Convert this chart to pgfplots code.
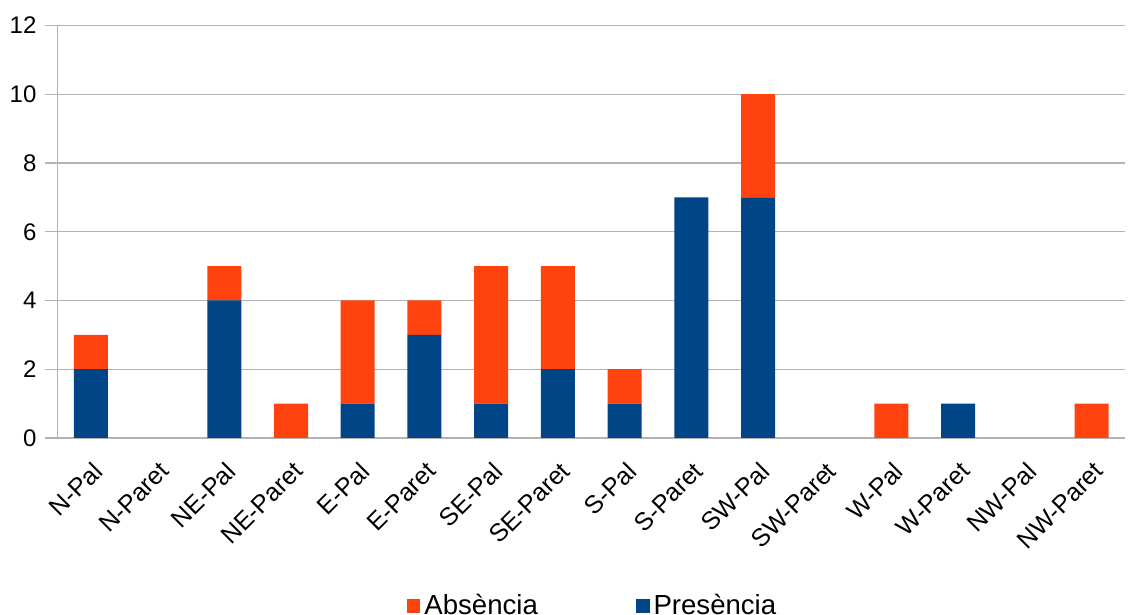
\documentclass[border=0pt]{standalone}
\usepackage{pgfplots}
\pgfplotsset{compat=1.18}
\usepackage{fontspec}
\setmainfont{Liberation Sans}
\definecolor{pres}{HTML}{004586}
\definecolor{abs}{HTML}{FF420E}
\definecolor{gridc}{HTML}{B3B3B3}
\pgfplotstableread{
x pres abs
0 2 1
1 0 0
2 4 1
3 0 1
4 1 3
5 3 1
6 1 4
7 2 3
8 1 1
9 7 0
10 7 3
11 0 0
12 0 1
13 1 0
14 0 0
15 0 1
}\datatable
\begin{document}
\begin{tikzpicture}
\begin{axis}[
  scale only axis,
  width=533.75pt, height=206.25pt,
  at={(0,0)}, anchor=south west,
  ybar stacked,
  bar width=17pt,
  xmin=-0.5, xmax=15.5,
  ymin=0, ymax=12,
  ytick={0,2,...,12},
  xtick={0,...,15},
  xticklabels={N-Pal,N-Paret,NE-Pal,NE-Paret,E-Pal,E-Paret,SE-Pal,SE-Paret,S-Pal,S-Paret,SW-Pal,SW-Paret,W-Pal,W-Paret,NW-Pal,NW-Paret},
  major x tick style={draw=none},
  extra x ticks={-0.5,0.5,...,15.5},
  extra x tick labels={},
  extra x tick style={grid=none, major tick length=5pt, tick align=outside, major tick style={draw=gridc, line width=0.6pt}},
  axis lines=left,
  axis line style={-, draw=gridc, line width=0.6pt},
  ymajorgrids,
  grid style={draw=gridc, line width=0.6pt},
  y tick style={draw=gridc, line width=0.6pt},
  tick align=outside,
  major tick length=6pt,
  /pgf/number format/assume math mode=true,
  yticklabel style={font=\fontsize{12}{14}\selectfont, xshift=-1pt},
  xticklabel style={font=\fontsize{12.5}{15}\selectfont, rotate=45, anchor=east, yshift=-8.5pt, xshift=0pt},
  reverse legend,
  legend columns=2,
  legend style={at={(268pt,-84pt)}, anchor=center, draw=none, fill=none,
    font=\fontsize{13.8}{16}\selectfont, /tikz/every even column/.append style={column sep=47pt}},
  legend image code/.code={\fill[#1] (0pt,-3.4pt) rectangle (6.8pt,3.4pt);},
]
\addplot[fill=pres, draw=none] table[x=x, y=pres] {\datatable};
\addlegendentry{Presència}
\addplot[fill=abs, draw=none] table[x=x, y=abs] {\datatable};
\addlegendentry{Absència}
\end{axis}
\pgfresetboundingbox
\useasboundingbox (-28.75pt,-88.5pt) rectangle (536.25pt,219pt);
\end{tikzpicture}
\end{document}
